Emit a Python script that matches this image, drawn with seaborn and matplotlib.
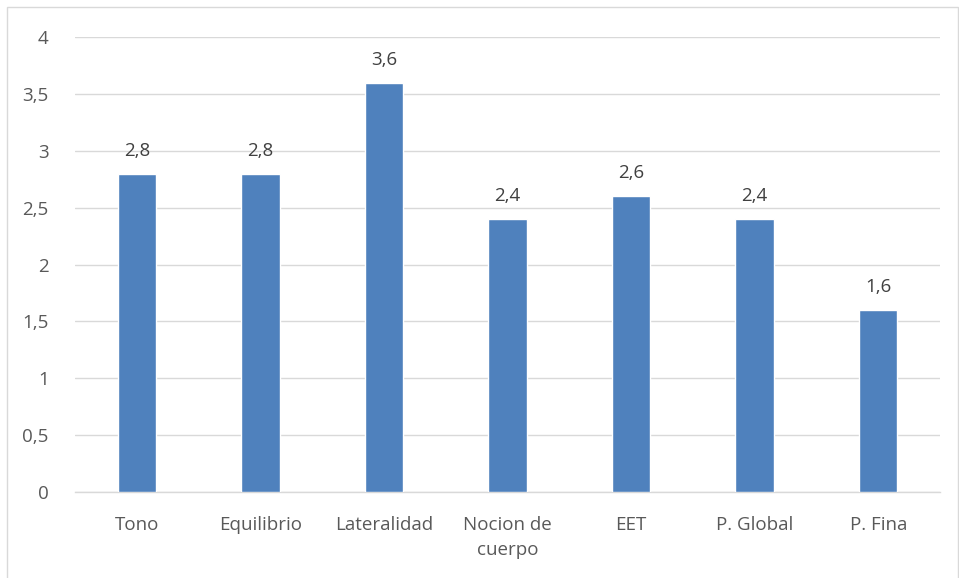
import matplotlib
matplotlib.use("Agg")
import matplotlib.pyplot as plt
from matplotlib.patches import Rectangle
import seaborn as sns
import pandas as pd

categories = ["Tono", "Equilibrio", "Lateralidad", "Nocion de\ncuerpo", "EET", "P. Global", "P. Fina"]
values = [2.8, 2.8, 3.6, 2.4, 2.6, 2.4, 1.6]
yticks = [0, 0.5, 1, 1.5, 2, 2.5, 3, 3.5, 4]

sns.set_theme(style="white")
plt.rcParams["font.family"] = ["Open Sans", "DejaVu Sans"]

def comma(v):
    s = f"{v:g}"
    return s.replace(".", ",")

df = pd.DataFrame({"cat": categories, "val": values})

fig = plt.figure(figsize=(9.59, 5.78), dpi=100)
ax = fig.add_axes([75 / 959, 1 - 492 / 578, 865 / 959, 455 / 578])

sns.barplot(data=df, x="cat", y="val", color="#4f81bd", width=0.31, ax=ax,
            saturation=1, zorder=3)

ax.set_ylim(0, 4)
ax.set_yticks(yticks)
ax.set_yticklabels([comma(t) for t in yticks])
ax.set_xlim(-0.5, len(categories) - 0.5)
ax.yaxis.grid(True, color="#d9d9d9", linewidth=1, zorder=0)
ax.set_xlabel("")
ax.set_ylabel("")
for s in ["top", "right", "left"]:
    ax.spines[s].set_visible(False)
ax.spines["bottom"].set_color("#d9d9d9")
ax.spines["bottom"].set_linewidth(1)
ax.tick_params(axis="both", length=0, colors="#595959", labelsize=13.5)
ax.tick_params(axis="y", pad=19)
ax.tick_params(axis="x", pad=17)
for lbl in ax.get_xticklabels():
    lbl.set_linespacing(1.55)

for cont in ax.containers:
    ax.bar_label(cont, labels=[comma(v) for v in values], padding=10,
                 fontsize=13.5, color="#404040")

fig.patches.append(Rectangle((7 / 959, -0.05), 951 / 959, 1.05 - 7 / 578,
                             transform=fig.transFigure, fill=False,
                             edgecolor="#d9d9d9", linewidth=1))

fig.savefig("out.png", dpi=100, facecolor="white")
